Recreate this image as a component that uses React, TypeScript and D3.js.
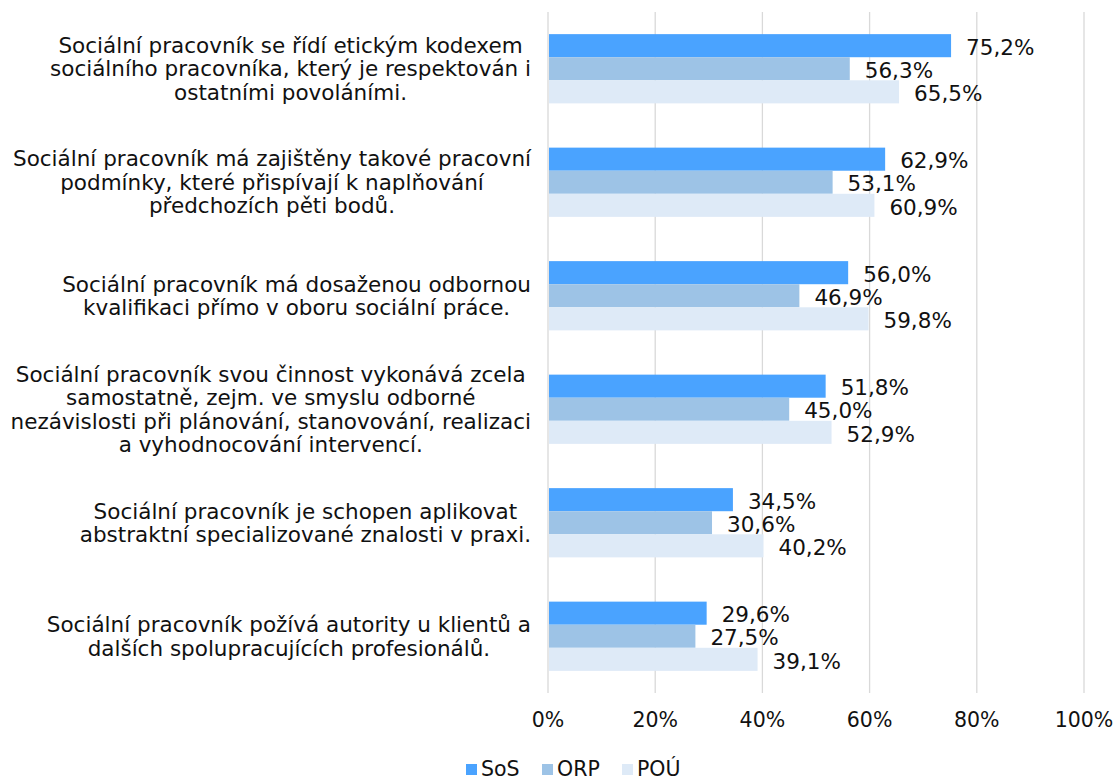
import React, { useEffect, useRef } from "react";
import * as d3 from "d3";

const categories: string[][] = [
  ["Sociální pracovník se řídí etickým kodexem", "sociálního pracovníka, který je respektován i", "ostatními povoláními."],
  ["Sociální pracovník má zajištěny takové pracovní", "podmínky, které přispívají k naplňování", "předchozích pěti bodů."],
  ["Sociální pracovník má dosaženou odbornou", "kvalifikaci přímo v oboru sociální práce."],
  ["Sociální pracovník svou činnost vykonává zcela", "samostatně, zejm. ve smyslu odborné", "nezávislosti při plánování, stanovování, realizaci", "a vyhodnocování intervencí."],
  ["Sociální pracovník je schopen aplikovat", "abstraktní specializované znalosti v praxi."],
  ["Sociální pracovník požívá autority u klientů a", "dalších spolupracujících profesionálů."],
];
const seriesNames = ["SoS", "ORP", "POÚ"];
const sos = [75.2, 62.9, 56.0, 51.8, 34.5, 29.6];
const orp = [56.3, 53.1, 46.9, 45.0, 30.6, 27.5];
const pou = [65.5, 60.9, 59.8, 52.9, 40.2, 39.1];
const xTicks = [0, 20, 40, 60, 80, 100];
const colors = ["#4aa3ff", "#9dc3e6", "#deeaf7"];

export default function App() {
  const ref = useRef<SVGSVGElement>(null);
  useEffect(() => {
    const svg = d3.select(ref.current!);
    svg.selectAll("*").remove();
    const font = "'DejaVu Sans', Verdana, sans-serif";
    const fs = 21.5;
    const axisFs = 20.5;
    const txt = "#111";
    const left = 548, right = 1084, top = 12, bottom = 693;
    const x = d3.scaleLinear().domain([0, 100]).range([left, right]);
    const idx = categories.map((_, i) => i);
    const y = d3.scaleBand<number>().domain(idx).range([top, bottom]).paddingInner(0.39).paddingOuter(0.195);
    const y1 = d3.scaleBand<number>().domain([0, 1, 2]).range([0, y.bandwidth()]);
    const series = [sos, orp, pou];

    // gridlines
    svg.append("g").selectAll("line").data(xTicks).join("line")
      .attr("x1", d => x(d)).attr("x2", d => x(d))
      .attr("y1", top).attr("y2", bottom)
      .attr("stroke", "#d9d9d9").attr("stroke-width", 1.3);

    // bars
    idx.forEach(i => {
      series.forEach((s, k) => {
        svg.append("rect")
          .attr("x", x(0) + 1).attr("y", y(i)! + y1(k)!)
          .attr("width", x(s[i]) - x(0) - 1).attr("height", y1.bandwidth())
          .attr("fill", colors[k]);
        svg.append("text")
          .attr("x", x(s[i]) + 15).attr("y", y(i)! + y1(k)! + y1.bandwidth() / 2 + 1.5)
          .attr("dy", "0.36em")
          .attr("font-family", font).attr("font-size", fs).attr("fill", txt)
          .text(s[i].toFixed(1).replace(".", ",") + "%");
      });
    });

    // axis labels
    svg.append("g").selectAll("text").data(xTicks).join("text")
      .attr("x", d => x(d)).attr("y", 720).attr("dy", "0.36em")
      .attr("text-anchor", "middle")
      .attr("font-family", font).attr("font-size", axisFs).attr("fill", txt)
      .text(d => d + "%");

    // category labels
    const lh = 23.5;
    idx.forEach(i => {
      const lines = categories[i];
      const g = svg.append("g");
      const cy = y(i)! + y.bandwidth() / 2;
      const texts = lines.map((ln, j) =>
        g.append("text")
          .attr("y", cy + (j - (lines.length - 1) / 2) * lh).attr("dy", "0.36em")
          .attr("text-anchor", "middle")
          .attr("font-family", font).attr("font-size", fs).attr("fill", txt)
          .text(ln));
      const maxW = d3.max(texts, t => (t.node() as SVGTextElement).getComputedTextLength()) || 0;
      const cx = 531 - maxW / 2;
      texts.forEach(t => t.attr("x", cx));
    });

    // legend
    const legX = [466, 542, 622];
    seriesNames.forEach((n, k) => {
      svg.append("rect").attr("x", legX[k]).attr("y", 764).attr("width", 11).attr("height", 11).attr("fill", colors[k]);
      svg.append("text").attr("x", legX[k] + 15).attr("y", 769).attr("dy", "0.35em")
        .attr("font-family", font).attr("font-size", 20.5).attr("fill", txt).text(n);
    });
  }, []);
  return (
    <svg ref={ref} width={1116} height={781} style={{ position: "absolute", left: 0, top: 0, background: "#fff" }} />
  );
}
